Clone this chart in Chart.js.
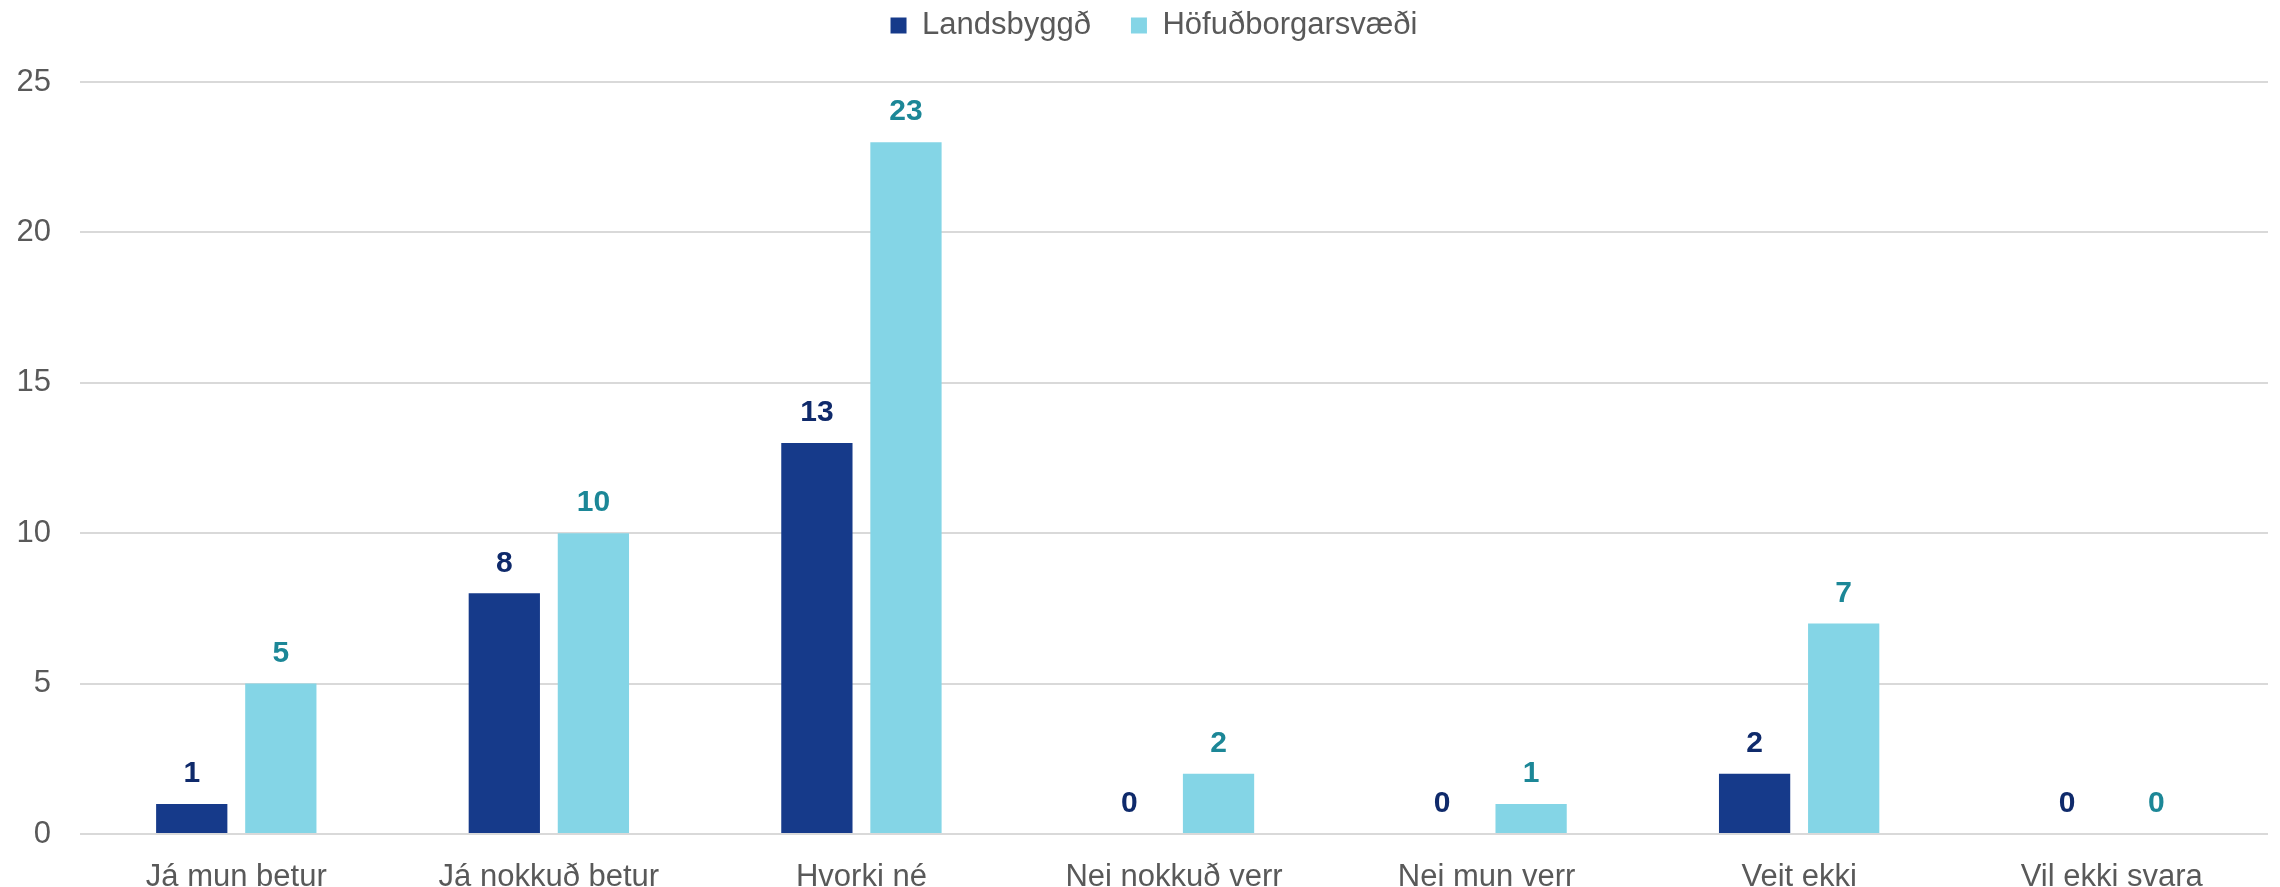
<!DOCTYPE html>
<html>
<head>
<meta charset="utf-8">
<script src="https://cdn.jsdelivr.net/npm/chart.js@4/dist/chart.umd.min.js"></script>
<style>
  body { margin: 0; background: #fff; }
  canvas { display: block; }
</style>
</head>
<body>
<canvas id="chart" width="2280" height="887"></canvas>
<script>
// Chart data
const categories = ['Já mun betur', 'Já nokkuð betur', 'Hvorki né', 'Nei nokkuð verr', 'Nei mun verr', 'Veit ekki', 'Vil ekki svara'];
const landsbyggd = [1, 8, 13, 0, 0, 2, 0];
const hofudborg = [5, 10, 23, 2, 1, 7, 0];
const yTicks = [0, 5, 10, 15, 20, 25];

const labelColors = ['#0f2a6b', '#1c8797'];
const fontFamily = '"Liberation Sans", Arial, sans-serif';

// Draw value labels above each bar
const valueLabels = {
    id: 'valueLabels',
    afterDatasetsDraw(chart) {
        const ctx = chart.ctx;
        ctx.save();
        ctx.font = 'bold 30px ' + fontFamily;
        ctx.textAlign = 'center';
        ctx.textBaseline = 'middle';
        chart.data.datasets.forEach(function(ds, i) {
            const meta = chart.getDatasetMeta(i);
            ctx.fillStyle = labelColors[i];
            meta.data.forEach(function(bar, j) {
                ctx.fillText(ds.data[j], bar.x, bar.y - 30);
            });
        });
        ctx.restore();
    }
};

// Leave room between the legend and the plot, and nudge the legend right
const legendSpace = {
    id: 'legendSpace',
    beforeInit(chart) {
        const fit = chart.legend.fit;
        chart.legend.fit = function() {
            fit.bind(chart.legend)();
            this.height = 112;
        };
    },
    afterLayout(chart) {
        chart.legend.left += 20;
        chart.legend.right += 20;
    }
};

const ctx = document.getElementById('chart').getContext('2d');
new Chart(ctx, {
    type: 'bar',
    data: {
        labels: categories,
        datasets: [
            { label: 'Landsbyggð', data: landsbyggd, backgroundColor: '#163a8a' },
            { label: 'Höfuðborgarsvæði', data: hofudborg, backgroundColor: '#84d5e6' }
        ]
    },
    options: {
        responsive: false,
        animation: false,
        layout: { padding: { left: 0, right: 12, top: -30, bottom: 0 } },
        datasets: {
            bar: { categoryPercentage: 0.57, barPercentage: 0.8 }
        },
        plugins: {
            legend: {
                position: 'top',
                labels: {
                    boxWidth: 16,
                    boxHeight: 16,
                    padding: 40,
                    color: '#595959',
                    font: { family: fontFamily, size: 31 }
                }
            },
            tooltip: { enabled: false }
        },
        scales: {
            x: {
                grid: { display: false },
                border: { display: false },
                afterFit: function(scale) { scale.height = 53; },
                ticks: {
                    color: '#595959',
                    padding: 20,
                    font: { family: fontFamily, size: 31, lineHeight: 1 }
                }
            },
            y: {
                min: 0,
                max: 25,
                afterBuildTicks: function(axis) {
                    axis.ticks = yTicks.map(function(v) { return { value: v }; });
                },
                afterFit: function(scale) { scale.width = 80; },
                grid: { color: '#d9d9d9', lineWidth: 2, drawTicks: false },
                border: { display: false },
                ticks: {
                    color: '#595959',
                    padding: 29,
                    font: { family: fontFamily, size: 31 }
                }
            }
        }
    },
    plugins: [legendSpace, valueLabels]
});
</script>
</body>
</html>
